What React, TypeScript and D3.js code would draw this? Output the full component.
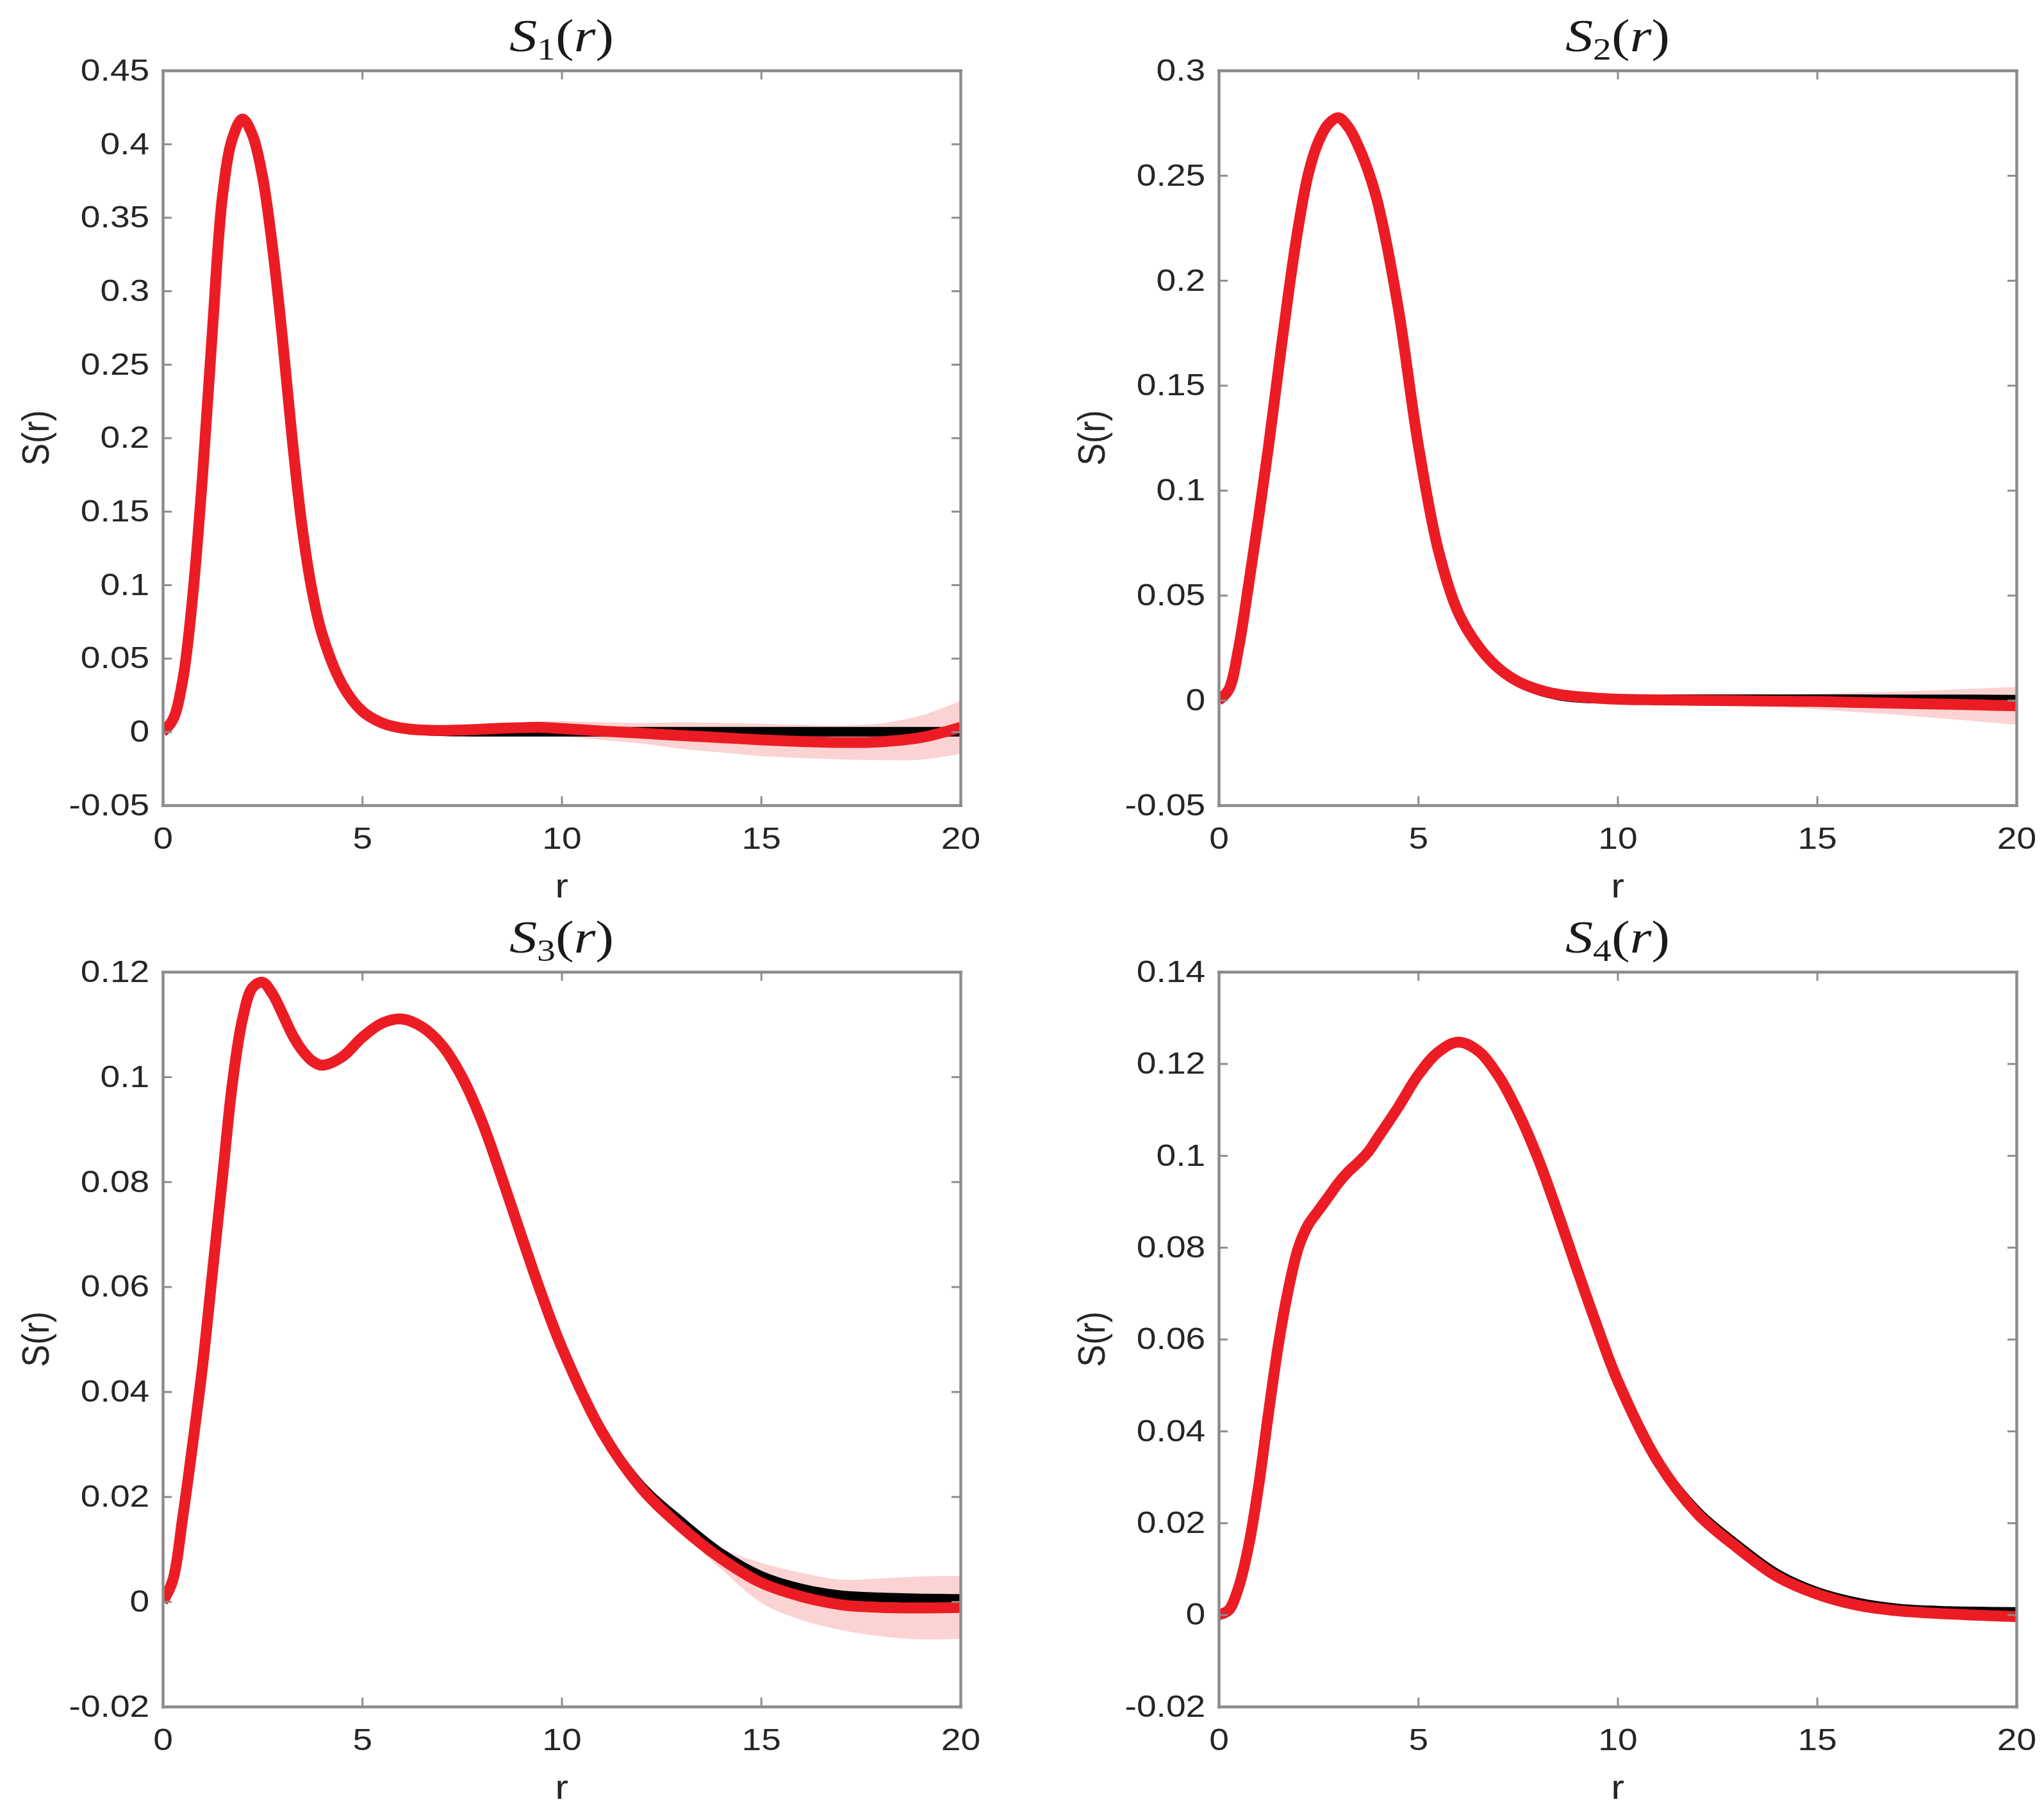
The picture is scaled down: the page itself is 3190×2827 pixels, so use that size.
import React, { useEffect, useRef } from "react";
import * as d3 from "d3";

// r sample positions (denser where the curves bend quickly)
const rGrid = [
  0, 0.25, 0.5, 0.75, 1, 1.25, 1.5, 1.75, 2, 2.25, 2.5, 2.75, 3, 3.25, 3.5, 3.75, 4,
  4.5, 5, 5.5, 6, 6.5, 7, 7.5, 8, 8.5, 9, 9.5, 10,
  11, 12, 13, 14, 15, 16, 17, 18, 19, 20,
];
const xTicks = [0, 5, 10, 15, 20];

// S1
const s1True = [
  0, 0.008, 0.035, 0.092, 0.175, 0.275, 0.365, 0.404, 0.417, 0.406, 0.378, 0.33, 0.268, 0.198, 0.138, 0.095, 0.066,
  0.032, 0.014, 0.006, 0.0025, 0.001, 0.0004, 0.0001, 0, 0, 0, 0, 0,
  0, 0, 0, 0, 0, 0, 0, 0, 0, 0,
];
const s1Est = [
  0, 0.008, 0.035, 0.092, 0.175, 0.275, 0.365, 0.404, 0.417, 0.406, 0.378, 0.33, 0.268, 0.198, 0.138, 0.095, 0.066,
  0.032, 0.014, 0.006, 0.0025, 0.0012, 0.0009, 0.0012, 0.0018, 0.0024, 0.0028, 0.003, 0.0022,
  0.0005, -0.001, -0.0026, -0.004, -0.0055, -0.0066, -0.0073, -0.0068, -0.004, 0.003,
];
const s1Spread = [
  0, 0, 0, 0, 0, 0, 0, 0, 0, 0, 0, 0, 0, 0, 0, 0, 0,
  0, 0, 0, 0, 0, 0, 0.0005, 0.001, 0.002, 0.003, 0.004, 0.005,
  0.006, 0.007, 0.009, 0.01, 0.011, 0.0112, 0.0115, 0.0125, 0.015, 0.018,
];
const s1Ticks = [-0.05, 0, 0.05, 0.1, 0.15, 0.2, 0.25, 0.3, 0.35, 0.4, 0.45];

// S2
const s2True = [
  0, 0.005, 0.025, 0.055, 0.087, 0.121, 0.158, 0.194, 0.226, 0.251, 0.266, 0.2745, 0.2775, 0.273, 0.264, 0.252, 0.236,
  0.187, 0.122, 0.072, 0.042, 0.026, 0.0155, 0.0088, 0.0048, 0.0024, 0.0012, 0.0008, 0.0006,
  0.0005, 0.0005, 0.0005, 0.0005, 0.0005, 0.0005, 0.0004, 0.0004, 0.0004, 0.0003,
];
const s2Est = [
  0, 0.005, 0.025, 0.055, 0.087, 0.121, 0.158, 0.194, 0.226, 0.251, 0.266, 0.2745, 0.2775, 0.273, 0.264, 0.252, 0.236,
  0.187, 0.122, 0.072, 0.042, 0.026, 0.0155, 0.009, 0.0052, 0.0029, 0.0017, 0.001, 0.0005,
  0.0002, 0, -0.0002, -0.0004, -0.0006, -0.001, -0.0014, -0.0018, -0.0022, -0.0026,
];
const s2Spread = [
  0, 0, 0, 0, 0, 0, 0, 0, 0, 0, 0, 0, 0, 0, 0, 0, 0,
  0, 0, 0, 0, 0, 0, 0, 0, 0, 0, 0, 0.0002,
  0.0005, 0.001, 0.0018, 0.0027, 0.0037, 0.0046, 0.0055, 0.0066, 0.0078, 0.009,
];
const s2Ticks = [-0.05, 0, 0.05, 0.1, 0.15, 0.2, 0.25, 0.3];

// S3
const s3True = [
  0, 0.004, 0.016, 0.03, 0.045, 0.063, 0.081, 0.099, 0.111, 0.117, 0.118, 0.1158, 0.112, 0.108, 0.105, 0.103, 0.1022,
  0.1038, 0.1075, 0.1102, 0.111, 0.1095, 0.106, 0.1, 0.0915, 0.0808, 0.0695, 0.0585, 0.0485,
  0.0325, 0.022, 0.0152, 0.0092, 0.0049, 0.0025, 0.0012, 0.0008, 0.0006, 0.0005,
];
const s3Est = [
  0, 0.004, 0.016, 0.03, 0.045, 0.063, 0.081, 0.099, 0.111, 0.117, 0.118, 0.1158, 0.112, 0.108, 0.105, 0.103, 0.1022,
  0.1038, 0.1075, 0.1102, 0.111, 0.1095, 0.106, 0.1, 0.0915, 0.0808, 0.0695, 0.0585, 0.0485,
  0.0325, 0.0216, 0.0142, 0.0082, 0.0036, 0.001, -0.0006, -0.0011, -0.0012, -0.0011,
];
const s3Spread = [
  0, 0, 0, 0, 0, 0, 0, 0, 0, 0, 0, 0, 0, 0, 0, 0, 0,
  0, 0, 0, 0, 0, 0, 0, 0, 0, 0, 0, 0,
  0, 0.0003, 0.001, 0.002, 0.0038, 0.0045, 0.0048, 0.0055, 0.006, 0.006,
];
const s3Ticks = [-0.02, 0, 0.02, 0.04, 0.06, 0.08, 0.1, 0.12];

// S4
const s4True = [
  0, 0.001, 0.006, 0.015, 0.028, 0.044, 0.059, 0.071, 0.08, 0.085, 0.088, 0.091, 0.094, 0.0965, 0.0985, 0.1008, 0.104,
  0.1105, 0.1175, 0.1225, 0.1247, 0.1228, 0.1175, 0.1095, 0.0995, 0.0875, 0.0748, 0.0625, 0.051,
  0.0335, 0.0225, 0.0152, 0.0089, 0.005, 0.0027, 0.0014, 0.0009, 0.0007, 0.0006,
];
const s4Est = [
  0, 0.001, 0.006, 0.015, 0.028, 0.044, 0.059, 0.071, 0.08, 0.085, 0.088, 0.091, 0.094, 0.0965, 0.0985, 0.1008, 0.104,
  0.1105, 0.1175, 0.1225, 0.1247, 0.1228, 0.1175, 0.1095, 0.0995, 0.0875, 0.0748, 0.0625, 0.051,
  0.0335, 0.022, 0.0146, 0.0083, 0.0045, 0.0021, 0.0009, 0.0003, -0.0001, -0.0004,
];
const s4Spread = [
  0, 0, 0, 0, 0, 0, 0, 0, 0, 0, 0, 0, 0, 0, 0, 0, 0,
  0, 0, 0, 0, 0, 0, 0, 0, 0, 0, 0, 0,
  0, 0, 0, 0, 0.0003, 0.0005, 0.0007, 0.0009, 0.0011, 0.0013,
];
const s4Ticks = [-0.02, 0, 0.02, 0.04, 0.06, 0.08, 0.1, 0.12, 0.14];

const panels = [
  { sub: "1", truth: s1True, est: s1Est, spread: s1Spread, ticks: s1Ticks, col: 0, row: 0 },
  { sub: "2", truth: s2True, est: s2Est, spread: s2Spread, ticks: s2Ticks, col: 1, row: 0 },
  { sub: "3", truth: s3True, est: s3Est, spread: s3Spread, ticks: s3Ticks, col: 0, row: 1 },
  { sub: "4", truth: s4True, est: s4Est, spread: s4Spread, ticks: s4Ticks, col: 1, row: 1 },
];

const W = 3190;
const H = 2827;
const colLeft = [254, 1902];
const rowTop = [110, 1517];
const plotW = 1245;
const plotH = 1147;
const sx = 1.15; // the source figure is stretched a bit horizontally

const axisColor = "#8c8c8c";
const textColor = "#262626";
const sans = "'Liberation Sans', Arial, Helvetica, sans-serif";
const serif = "'Liberation Serif', 'Times New Roman', serif";

const fmt = (d) => String(Number((+d).toFixed(3)));
const curve = d3.curveCatmullRom.alpha(0.5);

const App = () => {
  const ref = useRef(null);

  useEffect(() => {
    if (!ref.current) return;
    const svg = d3.select(ref.current);
    svg.selectAll("*").remove();

    panels.forEach((p, i) => {
      const left = colLeft[p.col];
      const top = rowTop[p.row];
      const x = d3.scaleLinear().domain([0, 20]).range([0, plotW]);
      const y = d3
        .scaleLinear()
        .domain([p.ticks[0], p.ticks[p.ticks.length - 1]])
        .range([plotH, 0]);

      const g = svg.append("g").attr("transform", `translate(${left},${top})`);

      g.append("clipPath")
        .attr("id", `clip-${i}`)
        .append("rect")
        .attr("width", plotW)
        .attr("height", plotH);

      const pts = rGrid.map((r, k) => ({ r, t: p.truth[k], e: p.est[k], s: p.spread[k] }));
      const plot = g.append("g").attr("clip-path", `url(#clip-${i})`);

      // uncertainty band
      plot
        .append("path")
        .datum(pts)
        .attr(
          "d",
          d3
            .area()
            // @ts-ignore
            .x((d) => x(d.r))
            // @ts-ignore
            .y0((d) => y(d.e - d.s))
            // @ts-ignore
            .y1((d) => y(d.e + d.s))
            .curve(curve)
        )
        .attr("fill", "rgba(238, 70, 70, 0.24)");

      // true curve (black) then estimate (red)
      plot
        .append("path")
        .datum(pts)
        .attr(
          "d",
          d3
            .line()
            // @ts-ignore
            .x((d) => x(d.r))
            // @ts-ignore
            .y((d) => y(d.t))
            .curve(curve)
        )
        .attr("fill", "none")
        .attr("stroke", "#000")
        .attr("stroke-width", 15);

      plot
        .append("path")
        .datum(pts)
        .attr(
          "d",
          d3
            .line()
            // @ts-ignore
            .x((d) => x(d.r))
            // @ts-ignore
            .y((d) => y(d.e))
            .curve(curve)
        )
        .attr("fill", "none")
        .attr("stroke", "#ec1c24")
        .attr("stroke-width", 17)
        .attr("stroke-linejoin", "round");

      // === Axes (box with inward ticks) ===
      const bottom = g
        .append("g")
        .attr("transform", `translate(0,${plotH})`)
        .call(
          d3.axisBottom(x).tickValues(xTicks).tickSizeInner(-14).tickSizeOuter(0).tickPadding(34).tickFormat(fmt)
        );
      const topAx = g.append("g").call(
        d3.axisTop(x).tickValues(xTicks).tickSizeInner(-14).tickSizeOuter(0).tickFormat(() => "")
      );
      const leftAx = g.append("g").call(
        d3.axisLeft(y).tickValues(p.ticks).tickSizeInner(-14).tickSizeOuter(0).tickPadding(18).tickFormat(fmt)
      );
      const rightAx = g
        .append("g")
        .attr("transform", `translate(${plotW},0)`)
        .call(d3.axisRight(y).tickValues(p.ticks).tickSizeInner(-14).tickSizeOuter(0).tickFormat(() => ""));

      [bottom, topAx, leftAx, rightAx].forEach((ax) => {
        ax.attr("font-size", 48).attr("font-family", sans);
        ax.select(".domain")
          .attr("stroke", axisColor)
          .attr("stroke-width", 4.5)
          .attr("stroke-linecap", "square");
        ax.selectAll(".tick line").attr("stroke", axisColor).attr("stroke-width", 3);
        ax.selectAll(".tick text").attr("fill", textColor).attr("transform", `scale(${sx},1)`);
      });

      // === Title ===
      const title = g
        .append("g")
        .attr("transform", `translate(${plotW / 2},-30) scale(1.2,1)`)
        .append("text")
        .attr("text-anchor", "middle")
        .attr("font-family", serif)
        .attr("font-size", 72)
        .attr("fill", "#1a1a1a");
      title.append("tspan").attr("font-style", "italic").text("S");
      title.append("tspan").attr("font-size", 48).attr("dy", 13).text(p.sub);
      title.append("tspan").attr("dy", -13).text("(");
      title.append("tspan").attr("font-style", "italic").text("r");
      title.append("tspan").text(")");

      // === Axis labels ===
      g.append("g")
        .attr("transform", `translate(${plotW / 2},${plotH + 144}) scale(${sx},1)`)
        .append("text")
        .attr("text-anchor", "middle")
        .attr("font-family", sans)
        .attr("font-size", 54)
        .attr("fill", textColor)
        .text("r");

      g.append("g")
        .attr("transform", `translate(-198,${plotH / 2}) scale(${sx},1) rotate(-90)`)
        .append("text")
        .attr("text-anchor", "middle")
        .attr("dy", "0.33em")
        .attr("font-family", sans)
        .attr("font-size", 52)
        .attr("fill", textColor)
        .text("S(r)");
    });
  }, []);

  return (
    <svg
      ref={ref}
      width={W}
      height={H}
      style={{ position: "absolute", left: 0, top: 0, background: "#fff", display: "block" }}
    ></svg>
  );
};

export default App;
